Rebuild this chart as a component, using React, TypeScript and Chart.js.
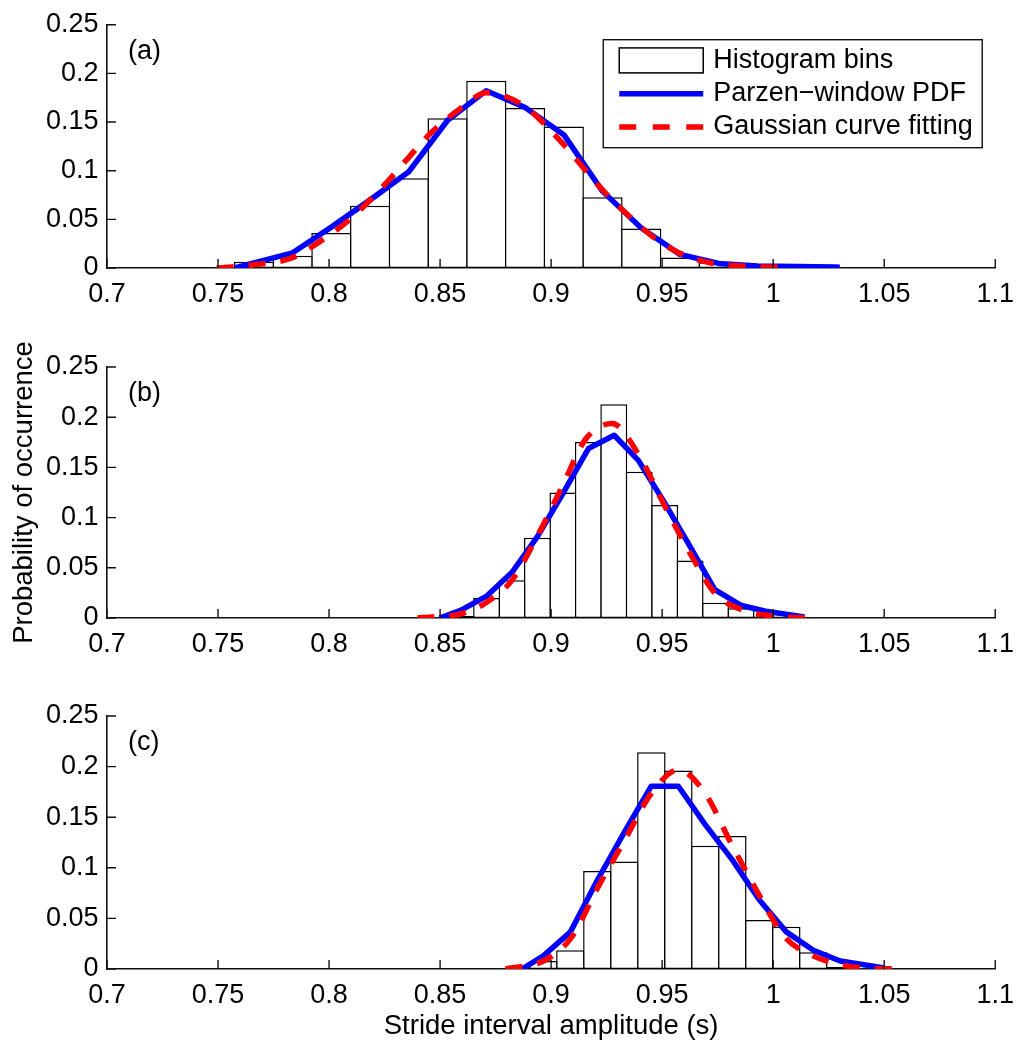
import React, { useEffect, useRef } from 'react';
import { Chart, registerables } from 'chart.js';

Chart.register(...registerables);

const FONT = '"Liberation Sans", Arial, Helvetica, sans-serif';

// ---------- axis ticks ----------
const xTicks = [0.7, 0.75, 0.8, 0.85, 0.9, 0.95, 1, 1.05, 1.1];
const xTickLabels = ['0.7', '0.75', '0.8', '0.85', '0.9', '0.95', '1', '1.05', '1.1'];
const yTicks = [0, 0.05, 0.1, 0.15, 0.2, 0.25];
const yTickLabels = ['0', '0.05', '0.1', '0.15', '0.2', '0.25'];

const legendLabels = ['Histogram bins', 'Parzen\u2212window PDF', 'Gaussian curve fitting'];
const yTitle = 'Probability of occurrence';
const xTitle = 'Stride interval amplitude (s)';

// ---------- panel (a) ----------
const histA_x = [0.76618, 0.78362, 0.80106, 0.8185, 0.83594, 0.85338, 0.87082, 0.88826, 0.9057, 0.92314, 0.94058, 0.95802, 0.97546];
const histA_y = [0.0064, 0.0127, 0.0359, 0.064, 0.0921, 0.154, 0.1923, 0.1645, 0.1453, 0.0726, 0.0405, 0.0107, 0.0058];
const parzenA_x = [0.7575, 0.7836, 0.801, 0.8185, 0.8359, 0.8534, 0.8708, 0.8883, 0.9057, 0.9231, 0.9406, 0.958, 0.9755, 0.9929, 1.0103, 1.0278, 1.03];
const parzenA_y = [0, 0.0156, 0.042, 0.07, 0.0989, 0.1518, 0.1822, 0.165, 0.137, 0.079, 0.041, 0.014, 0.0047, 0.002, 0.0015, 0.001, 0.0008];
const gaussA_x = [0.7494, 0.7655, 0.7835, 0.7941, 0.8099, 0.827, 0.836, 0.8464, 0.8598, 0.8707, 0.8868, 0.9064, 0.9154, 0.9243, 0.9348, 0.9453, 0.9572, 0.9721, 0.9842, 1.0021];
const gaussA_y = [0, 0.003, 0.0106, 0.0245, 0.051, 0.0906, 0.114, 0.14, 0.165, 0.18, 0.168, 0.125, 0.1005, 0.0774, 0.054, 0.033, 0.016, 0.005, 0.0023, 0.0007];

// ---------- panel (b) ----------
const histB_x = [0.85948, 0.87094, 0.8824, 0.89385, 0.90531, 0.91677, 0.92822, 0.93968, 0.95114, 0.96259, 0.97405, 0.98551, 0.99697];
const histB_y = [0.002, 0.02, 0.0375, 0.08, 0.125, 0.1754, 0.2128, 0.1456, 0.1126, 0.0573, 0.0151, 0.0097, 0.0015];
const parzenB_x = [0.8498, 0.8595, 0.8709, 0.8824, 0.8939, 0.9053, 0.9168, 0.9284, 0.9393, 0.9513, 0.9617, 0.9737, 0.9857, 0.9966, 1.0141];
const parzenB_y = [0, 0.0078, 0.0217, 0.0455, 0.0813, 0.124, 0.1688, 0.182, 0.157, 0.114, 0.0746, 0.0283, 0.0124, 0.0067, 0.001];
const gaussB_x = [0.8398, 0.86, 0.8705, 0.8825, 0.8945, 0.905, 0.9155, 0.9275, 0.9393, 0.9513, 0.9617, 0.9737, 0.9857, 1.0006, 1.0193];
const gaussB_y = [0, 0.0045, 0.015, 0.038, 0.0845, 0.131, 0.178, 0.1937, 0.163, 0.111, 0.068, 0.025, 0.0084, 0.0018, 0];

// ---------- panel (c) ----------
const histC_x = [0.89653, 0.90868, 0.92083, 0.93299, 0.94514, 0.95729, 0.96945, 0.9816, 0.99375, 1.00591, 1.01806, 1.03021];
const histC_y = [0.0079, 0.0186, 0.0969, 0.1062, 0.2143, 0.1961, 0.1217, 0.1313, 0.0483, 0.0417, 0.0166, 0.002];
const parzenC_x = [0.8869, 0.8965, 0.9087, 0.9208, 0.933, 0.9451, 0.9573, 0.9694, 0.9816, 0.9938, 1.0059, 1.0181, 1.0302, 1.05];
const parzenC_y = [0, 0.013, 0.0367, 0.0877, 0.1353, 0.1806, 0.1806, 0.1426, 0.1078, 0.0682, 0.0367, 0.0186, 0.0079, 0.001];
const gaussC_x = [0.8795, 0.8974, 0.9094, 0.9213, 0.9333, 0.9453, 0.9573, 0.9692, 0.9812, 0.9932, 1.0051, 1.0171, 1.0305, 1.042, 1.0597];
const gaussC_y = [0, 0.0089, 0.032, 0.0817, 0.128, 0.174, 0.1967, 0.174, 0.1235, 0.075, 0.032, 0.0139, 0.004, 0.001, 0];

const panelLabels = ['(a)', '(b)', '(c)'];

// ---------- plugins ----------
const inwardTicks = {
  id: 'inwardTicks',
  afterDatasetsDraw(chart: any) {
    const { ctx, chartArea: a, scales } = chart;
    const x = scales.x;
    const y = scales.y;
    ctx.save();
    ctx.strokeStyle = '#111';
    ctx.lineWidth = 1.4;
    ctx.beginPath();
    x.ticks.forEach((t: any) => {
      const px = x.getPixelForValue(t.value);
      ctx.moveTo(px, a.bottom);
      ctx.lineTo(px, a.bottom - 9);
    });
    y.ticks.forEach((t: any) => {
      const py = y.getPixelForValue(t.value);
      ctx.moveTo(a.left, py);
      ctx.lineTo(a.left + 9, py);
    });
    ctx.stroke();
    ctx.restore();
  },
};

const panelLabel = {
  id: 'panelLabel',
  afterDraw(chart: any, _args: any, opts: any) {
    const { ctx, chartArea: a } = chart;
    ctx.save();
    ctx.font = `27px ${FONT}`;
    ctx.fillStyle = '#000';
    ctx.textAlign = 'left';
    ctx.textBaseline = 'middle';
    ctx.fillText(opts.text, a.left + 21, a.top + 27);
    ctx.restore();
  },
};

const boxLegend = {
  id: 'boxLegend',
  afterDraw(chart: any, _args: any, opts: any) {
    if (!opts || !opts.show) return;
    const { ctx, chartArea: a } = chart;
    const ds = chart.data.datasets;
    const left = a.right - 392;
    const top = a.top + 15;
    const w = 379;
    const h = 108;
    ctx.save();
    ctx.fillStyle = '#fff';
    ctx.fillRect(left, top, w, h);
    ctx.strokeStyle = '#111';
    ctx.lineWidth = 1.4;
    ctx.strokeRect(left, top, w, h);
    const rows = [top + 20.7, top + 54, top + 87.3];
    const sx0 = left + 16;
    const sx1 = left + 100;
    // histogram patch
    ctx.fillStyle = '#fff';
    ctx.fillRect(sx0, rows[0] - 12.5, sx1 - sx0, 25);
    ctx.strokeStyle = '#000';
    ctx.lineWidth = 1.5;
    ctx.strokeRect(sx0, rows[0] - 12.5, sx1 - sx0, 25);
    // parzen line
    ctx.beginPath();
    ctx.strokeStyle = ds[1].borderColor;
    ctx.lineWidth = ds[1].borderWidth;
    ctx.moveTo(sx0, rows[1]);
    ctx.lineTo(sx1, rows[1]);
    ctx.stroke();
    // gaussian line
    ctx.beginPath();
    ctx.strokeStyle = ds[2].borderColor;
    ctx.lineWidth = ds[2].borderWidth;
    ctx.setLineDash([17, 16.5]);
    ctx.moveTo(sx0, rows[2]);
    ctx.lineTo(sx1, rows[2]);
    ctx.stroke();
    ctx.setLineDash([]);
    // text
    ctx.fillStyle = '#000';
    ctx.font = `27px ${FONT}`;
    ctx.textAlign = 'left';
    ctx.textBaseline = 'middle';
    for (let i = 0; i < 3; i++) ctx.fillText(ds[i].label, left + 110, rows[i]);
    ctx.restore();
  },
};

type PanelCfg = {
  hx: number[]; hy: number[];
  px: number[]; py: number[];
  gx: number[]; gy: number[];
  label: string;
  padTop: number;
  xAxisH: number;
  barPct: number;
  showLegend: boolean;
  showYTitle: boolean;
  showXTitle: boolean;
};

function pts(xs: number[], ys: number[]) {
  return xs.map((x, i) => ({ x, y: ys[i] }));
}

function makeConfig(p: PanelCfg): any {
  return {
    type: 'bar',
    data: {
      datasets: [
        {
          type: 'bar',
          label: legendLabels[0],
          data: pts(p.hx, p.hy),
          backgroundColor: '#ffffff',
          borderColor: '#000000',
          borderWidth: 1.5,
          borderSkipped: false,
          barPercentage: p.barPct,
          categoryPercentage: 1,
          order: 3,
        },
        {
          type: 'line',
          label: legendLabels[1],
          data: pts(p.px, p.py),
          borderColor: '#0000ff',
          borderWidth: 5.5,
          pointRadius: 0,
          tension: 0,
          fill: false,
          borderJoinStyle: 'round',
          borderCapStyle: 'butt',
          order: 2,
        },
        {
          type: 'line',
          label: legendLabels[2],
          data: pts(p.gx, p.gy),
          borderColor: '#ff0000',
          borderWidth: 5.5,
          borderDash: [17, 15],
          pointRadius: 0,
          cubicInterpolationMode: 'monotone',
          fill: false,
          borderCapStyle: 'butt',
          order: 1,
        },
      ],
    },
    options: {
      responsive: false,
      animation: false,
      events: [],
      layout: { padding: { top: p.padTop, right: 26, bottom: 0, left: 0 } },
      plugins: {
        legend: { display: false },
        tooltip: { enabled: false },
        panelLabel: { text: p.label },
        boxLegend: { show: p.showLegend },
      },
      scales: {
        x: {
          type: 'linear',
          min: 0.7,
          max: 1.1,
          offset: false,
          grid: { display: false, drawTicks: false },
          border: { display: true, color: '#111', width: 1.6 },
          afterBuildTicks: (s: any) => {
            s.ticks = xTicks.map((v) => ({ value: v }));
          },
          afterFit: (s: any) => {
            s.height = p.xAxisH;
          },
          ticks: {
            padding: 10,
            color: '#000',
            autoSkip: false,
            maxRotation: 0,
            font: { family: FONT, size: 27 },
            callback: (_v: any, i: number) => xTickLabels[i],
          },
          title: {
            display: p.showXTitle,
            text: xTitle,
            color: '#000',
            font: { family: FONT, size: 27.5 },
            padding: { top: 0, bottom: 6 },
          },
        },
        y: {
          type: 'linear',
          min: 0,
          max: 0.25,
          grid: { display: false, drawTicks: false },
          border: { display: true, color: '#111', width: 1.6 },
          afterBuildTicks: (s: any) => {
            s.ticks = yTicks.map((v) => ({ value: v }));
          },
          afterFit: (s: any) => {
            s.width = 107;
          },
          ticks: {
            padding: 8.5,
            color: '#000',
            autoSkip: false,
            font: { family: FONT, size: 27 },
            callback: (_v: any, i: number) => yTickLabels[i],
          },
          title: {
            display: p.showYTitle,
            text: yTitle,
            color: '#000',
            font: { family: FONT, size: 27.5 },
            padding: { top: 8, bottom: 0 },
          },
        },
      },
    },
    plugins: [inwardTicks, panelLabel, boxLegend],
  };
}

const panels: { cfg: PanelCfg; top: number; height: number }[] = [
  {
    top: 0,
    height: 318,
    cfg: {
      hx: histA_x, hy: histA_y, px: parzenA_x, py: parzenA_y, gx: gaussA_x, gy: gaussA_y,
      label: panelLabels[0], padTop: 16, xAxisH: 50, barPct: 1.0386,
      showLegend: true, showYTitle: false, showXTitle: false,
    },
  },
  {
    top: 330,
    height: 338,
    cfg: {
      hx: histB_x, hy: histB_y, px: parzenB_x, py: parzenB_y, gx: gaussB_x, gy: gaussB_y,
      label: panelLabels[1], padTop: 37, xAxisH: 50, barPct: 1.0588,
      showLegend: false, showYTitle: true, showXTitle: false,
    },
  },
  {
    top: 680,
    height: 369,
    cfg: {
      hx: histC_x, hy: histC_y, px: parzenC_x, py: parzenC_y, gx: gaussC_x, gy: gaussC_y,
      label: panelLabels[2], padTop: 36, xAxisH: 80, barPct: 1.0554,
      showLegend: false, showYTitle: false, showXTitle: true,
    },
  },
];

function Panel({ cfg, top, height }: { cfg: PanelCfg; top: number; height: number }) {
  const ref = useRef<HTMLCanvasElement>(null);
  useEffect(() => {
    if (!ref.current) return;
    const chart = new Chart(ref.current, makeConfig(cfg));
    return () => chart.destroy();
  }, []);
  return (
    <canvas
      ref={ref}
      width={1024}
      height={height}
      style={{ position: 'absolute', left: 0, top, width: 1024, height, display: 'block' }}
    />
  );
}

export default function App() {
  return (
    <div style={{ position: 'absolute', left: 0, top: 0, width: 1024, height: 1049, background: '#fff', overflow: 'hidden' }}>
      {panels.map((p, i) => (
        <Panel key={i} cfg={p.cfg} top={p.top} height={p.height} />
      ))}
    </div>
  );
}
